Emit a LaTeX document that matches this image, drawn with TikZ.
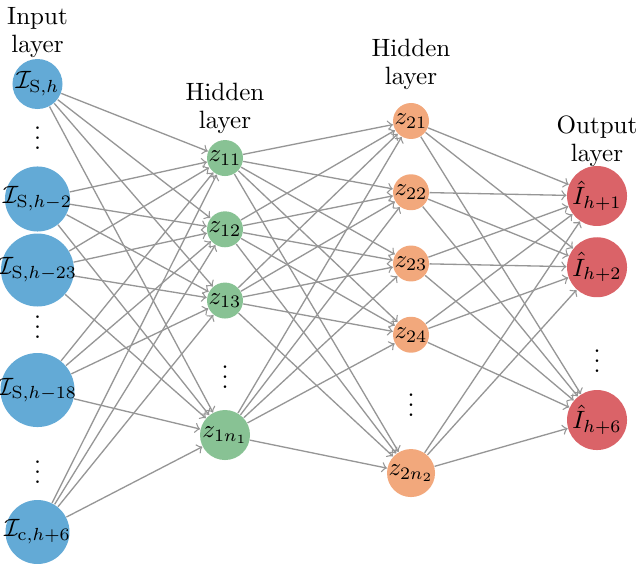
\documentclass[tikz,border=0pt]{standalone}
\usepackage{amsmath}
\usetikzlibrary{positioning}
\definecolor{inblue}{RGB}{99,170,214}
\definecolor{hidgreen}{RGB}{136,194,148}
\definecolor{hidorange}{RGB}{242,168,124}
\definecolor{outred}{RGB}{218,99,104}
\definecolor{edgegray}{RGB}{150,150,150}
\tikzset{>=to,node distance=1cm}

\begin{document}
\begin{tikzpicture}[
  every node/.style={scale=0.95},
  neuron/.style={circle, inner sep=-3pt},
  inp/.style={neuron, fill=inblue},
  hida/.style={neuron, fill=hidgreen, minimum size=0.505cm},
  hidb/.style={neuron, fill=hidorange, minimum size=0.505cm},
  outp/.style={neuron, fill=outred, minimum size=0.842cm},
  conn/.style={->, draw=edgegray, line width=0.5pt},
  layerlab/.style={align=center, inner sep=0pt, font=\linespread{0.93}\selectfont}
]
\useasboundingbox (0,0) rectangle (8.533,-7.507);

% input layer
\node[inp, minimum size=0.702cm] (i1) at (0.5,-1.12) {$\mathcal{I}_{\mathrm{S},h}$};
\node (id1) at (0.5,-1.747) {$\vdots$};
\node[inp, minimum size=0.913cm] (i2) at (0.5,-2.653) {$\mathcal{I}_{\mathrm{S},h-2}$};
\node[inp, minimum size=1.024cm] (i3) at (0.5,-3.6) {$\mathcal{I}_{\mathrm{S},h-23}$};
\node (id2) at (0.5,-4.267) {$\vdots$};
\node[inp, minimum size=1.039cm] (i4) at (0.5,-5.2) {$\mathcal{I}_{\mathrm{S},h-18}$};
\node (id3) at (0.5,-6.2) {$\vdots$};
\node[inp, minimum size=0.898cm] (i5) at (0.5,-7.093) {$\mathcal{I}_{\mathrm{c},h+6}$};

% first hidden layer
\node[hida] (h11) at (3,-2.107) {$z_{11}$};
\node[hida, below of=h11] (h12) {$z_{12}$};
\node[hida, below of=h12] (h13) {$z_{13}$};
\node (hd1) at (3,-4.933) {$\vdots$};
\node[hida, minimum size=0.702cm] (h1n) at (3,-5.8) {$z_{1n_1}$};

% second hidden layer
\node[hidb] (h21) at (5.48,-1.613) {$z_{21}$};
\node[hidb, below of=h21] (h22) {$z_{22}$};
\node[hidb, below of=h22] (h23) {$z_{23}$};
\node[hidb, below of=h23] (h24) {$z_{24}$};
\node (hd2) at (5.48,-5.307) {$\vdots$};
\node[hidb, minimum size=0.674cm] (h2n) at (5.48,-6.307) {$z_{2n_2}$};

% output layer
\node[outp] (o1) at (7.96,-2.613) {$\hat{I}_{h+1}$};
\node[outp, below of=o1] (o2) {$\hat{I}_{h+2}$};
\node (od) at (7.96,-4.72) {$\vdots$};
\node[outp] (o6) at (7.96,-5.6) {$\hat{I}_{h+6}$};

% layer titles
\node[layerlab, above=0cm of i1] (lin) {Input\\layer};
\node[layerlab, above=0.07cm of h11] (lha) {Hidden\\layer};
\node[layerlab, above=0.16cm of h21] (lhb) {Hidden\\layer};
\node[layerlab, above=-0.02cm of o1] (lout) {Output\\layer};

% connections
\foreach \a in {i1,i2,i3,i4,i5}
  \foreach \b in {h11,h12,h13,h1n}
    \draw[conn] (\a) -- (\b);
\foreach \a in {h11,h12,h13,h1n}
  \foreach \b in {h21,h22,h23,h24,h2n}
    \draw[conn] (\a) -- (\b);
\foreach \a in {h21,h22,h23,h24,h2n}
  \foreach \b in {o1,o2,o6}
    \draw[conn] (\a) -- (\b);

\end{tikzpicture}
\end{document}
